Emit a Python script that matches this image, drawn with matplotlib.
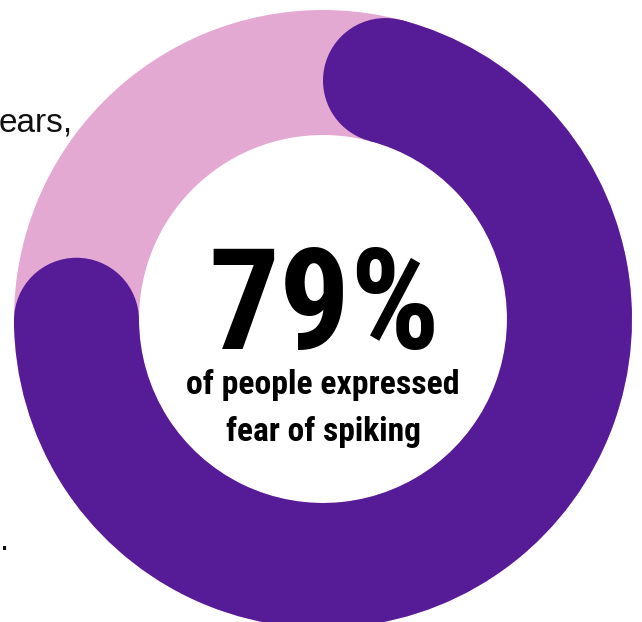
import numpy as np
import matplotlib
matplotlib.use('Agg')
import matplotlib.pyplot as plt
from matplotlib import font_manager
from matplotlib.patches import Wedge, Circle

# data
share = 79  # percent of people expressing fear
headline = "79%"
caption = ["of people expressed", "fear of spiking"]
side_text = ["ears,", "."]

W, H = 642, 622
fig = plt.figure(figsize=(W / 100, H / 100), dpi=100)
ax = fig.add_axes([0, 0, 1, 1])
ax.set_xlim(0, W)
ax.set_ylim(0, H)
ax.set_aspect('equal')
ax.axis('off')

purple = "#561b96"
pink = "#e4a9d2"

cx, cy = 323, H - 319
r_out, r_in = 309, 184
ring_w = r_out - r_in
r_mid = (r_out + r_in) / 2
cap_r = ring_w / 2

# background ring
ax.add_patch(Wedge((cx, cy), r_out, 0, 360, width=ring_w, color=pink, lw=0))

# value arc, starting at 12 o'clock, going clockwise, caps included in the span
span = share / 100 * 360
cap_deg = np.degrees(np.arcsin(cap_r / r_mid))
a_start = cap_deg            # clock angle (deg clockwise from top)
a_end = span - cap_deg
t1, t2 = 90 - a_end, 90 - a_start
ax.add_patch(Wedge((cx, cy), r_out, t1, t2, width=ring_w, color=purple, lw=0))
for a in (a_start, a_end):
    m = np.radians(90 - a)
    ax.add_patch(Circle((cx + r_mid * np.cos(m), cy + r_mid * np.sin(m)), cap_r,
                        color=purple, lw=0))

# pick a narrow font if one is around
names = {f.name for f in font_manager.fontManager.ttflist}
fam = 'Liberation Sans'
for n in ['Liberation Sans Narrow', 'DejaVu Sans Condensed', 'Roboto Condensed',
          'Open Sans Condensed', 'Liberation Sans']:
    if n in names:
        fam = n
        break

def fit_text(x, y, s, width, size, **kw):
    # shrink/grow the font so the text spans about `width` pixels
    t = ax.text(x, y, s, ha='center', va='center', fontsize=size,
                fontweight='bold', family=[fam, 'DejaVu Sans'], color='black', **kw)
    r = fig.canvas.get_renderer()
    w = t.get_window_extent(renderer=r).width
    t.set_fontsize(size * width / w)
    return t

fit_text(cx + 1, H - 310, headline, 232, 96)
fit_text(cx, H - 385, caption[0], 273, 22)
fit_text(cx, H - 432, caption[1], 195, 22)

# clipped body text at the left edge
ax.text(-1, H - 132, side_text[0], ha='left', va='baseline', fontsize=24,
        family=['Liberation Sans', 'DejaVu Sans'], color='#111111')
ax.text(0, H - 550, side_text[1], ha='left', va='baseline', fontsize=24,
        family=['Liberation Sans', 'DejaVu Sans'], color='#111111')

fig.savefig("out.png", dpi=100, facecolor='white')
